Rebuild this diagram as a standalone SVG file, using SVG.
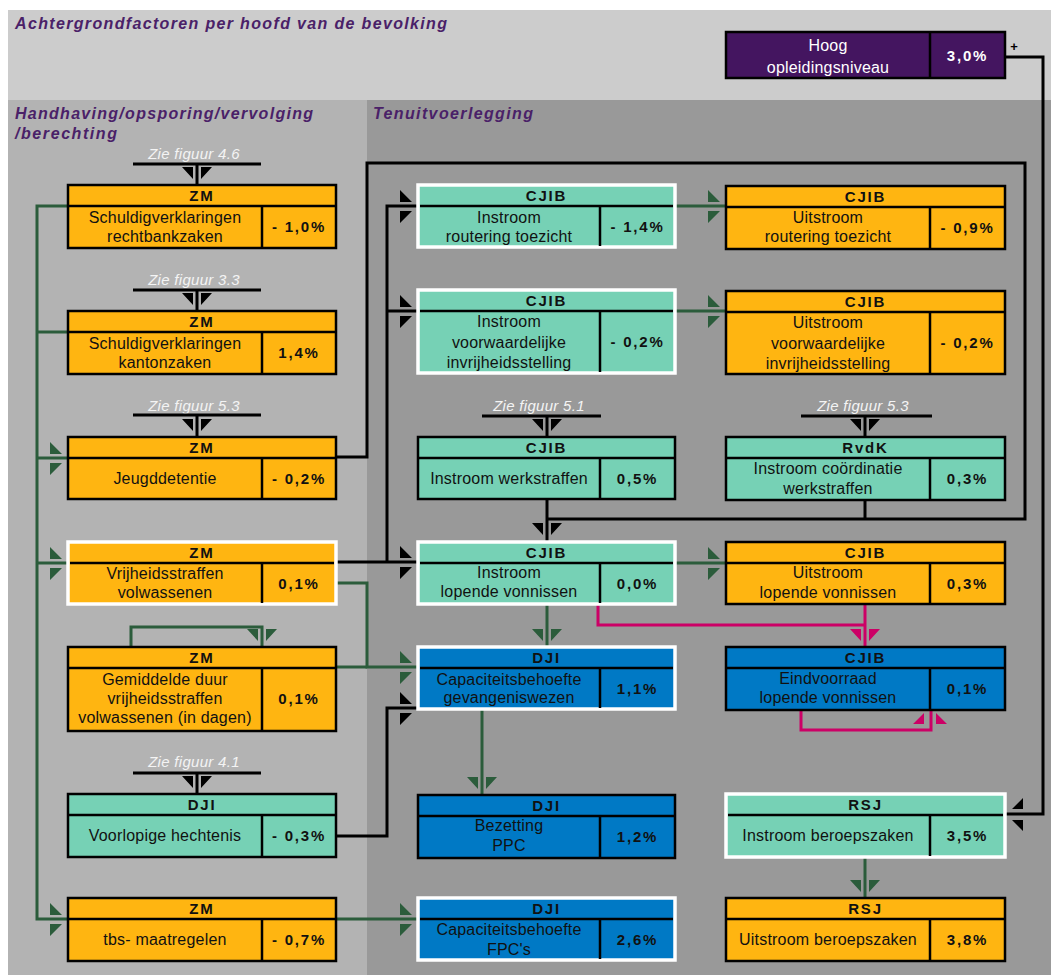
<svg xmlns="http://www.w3.org/2000/svg" width="1051" height="975" viewBox="0 0 1051 975">
<style>
.orange{fill:#ffb511}.teal{fill:#76d1b5}.blue{fill:#0079c5}.purple{fill:#441560}
.bk{stroke:#000;stroke-width:2.5}.wh{stroke:#fff;stroke-width:3.5}
.div{stroke:#000;stroke-width:2.5}
.hdr{font-family:"Liberation Sans",Arial,sans-serif;font-weight:bold;font-size:15px;letter-spacing:1.8px;text-anchor:middle;fill:#111}
.txt{font-family:"Liberation Sans",Arial,sans-serif;font-size:16px;letter-spacing:0.2px;text-anchor:middle;fill:#111}
.val{font-family:"Liberation Sans",Arial,sans-serif;font-weight:bold;font-size:15px;letter-spacing:1.8px;text-anchor:middle;fill:#111}
.wt{fill:#fff}
.zie{font-family:"Liberation Sans",Arial,sans-serif;font-style:italic;font-size:15px;letter-spacing:0.3px;text-anchor:middle;fill:#f4f4f4}
.ttl{font-family:"Liberation Sans",Arial,sans-serif;font-weight:bold;font-style:italic;font-size:16px;fill:#4a2168}
.cb{fill:none;stroke:#000;stroke-width:3}
.cg{fill:none;stroke:#2b5c3b;stroke-width:3}
.cm{fill:none;stroke:#cc0066;stroke-width:3}
.ab{fill:#000}.ag{fill:#2b5c3b}.am{fill:#cc0066}
</style>
<defs>
<path id="aR" d="M-18,-16V-4H-6Z M-18,5H-6L-18,17Z"/>
<path id="aD" d="M-15,-18H-4V-6Z M4,-18H15L4,-6Z"/>
<path id="aL" d="M6,-5H17V-16Z M6,6H17V17Z"/>
<path id="aU" d="M-18,14H-7V3Z M5,3V14H16Z"/>
</defs>
<rect x="0" y="0" width="1051" height="975" fill="#fff"/>
<rect x="8" y="10" width="1043" height="90" fill="#cccccc"/>
<rect x="8" y="100" width="359" height="875" fill="#b3b3b3"/>
<rect x="367" y="100" width="684" height="875" fill="#999999"/>
<g id="titles">
<text class="ttl" x="15" y="29" textLength="432" lengthAdjust="spacing">Achtergrondfactoren per hoofd van de bevolking</text>
<text class="ttl" x="15" y="119" textLength="298" lengthAdjust="spacing">Handhaving/opsporing/vervolging</text>
<text class="ttl" x="15" y="139" textLength="102" lengthAdjust="spacing">/berechting</text>
<text class="ttl" x="373" y="119" textLength="160" lengthAdjust="spacing">Tenuitvoerlegging</text>
<text x="1014" y="51" font-family="Liberation Sans, Arial, sans-serif" font-weight="bold" font-size="13" text-anchor="middle" fill="#000">+</text>
</g>
<g id="refs">
<text class="zie" x="194" y="159">Zie figuur 4.6</text>
<text class="zie" x="194" y="285">Zie figuur 3.3</text>
<text class="zie" x="194" y="411">Zie figuur 5.3</text>
<text class="zie" x="194" y="767">Zie figuur 4.1</text>
<text class="zie" x="539" y="411">Zie figuur 5.1</text>
<text class="zie" x="863" y="411">Zie figuur 5.3</text>
</g>
<g id="connectors">
<path class="cb" d="M133,164H261M197,164V185"/>
<path class="cb" d="M133,290H261M197,290V311"/>
<path class="cb" d="M133,415H261M197,415V437"/>
<path class="cb" d="M133,773H261M197,773V794"/>
<path class="cb" d="M482,416H601M547,416V437"/>
<path class="cb" d="M801,416H932M865,416V437"/>
<use href="#aD" class="ab" x="197" y="185"/>
<use href="#aD" class="ab" x="197" y="311"/>
<use href="#aD" class="ab" x="197" y="437"/>
<use href="#aD" class="ab" x="197" y="794"/>
<use href="#aD" class="ab" x="547" y="437"/>
<use href="#aD" class="ab" x="865" y="437"/>
<path class="cb" d="M1005,57H1043V814H1005"/>
<use href="#aL" class="ab" x="1006" y="814"/>
<path class="cb" d="M336,457H367V163H1025V519H547"/>
<path class="cb" d="M547,499V541"/>
<path class="cb" d="M865,500V519"/>
<use href="#aD" class="ab" x="547" y="541"/>
<path class="cb" d="M336,562H418"/>
<path class="cb" d="M418,206H387V562"/>
<path class="cb" d="M387,311H418"/>
<use href="#aR" class="ab" x="418" y="206"/>
<use href="#aR" class="ab" x="418" y="311"/>
<use href="#aR" class="ab" x="418" y="562"/>
<path class="cb" d="M336,836H387V708H418"/>
<use href="#aR" class="ab" x="418" y="708"/>
<path class="cg" d="M68,206H37V919H68"/>
<path class="cg" d="M68,332H37"/>
<path class="cg" d="M37,458H68"/>
<path class="cg" d="M37,563H68"/>
<use href="#aR" class="ag" x="68" y="458"/>
<use href="#aR" class="ag" x="68" y="563"/>
<use href="#aR" class="ag" x="68" y="919"/>
<path class="cg" d="M336,583H367V667H418"/>
<path class="cg" d="M336,667H367"/>
<use href="#aR" class="ag" x="418" y="667"/>
<path class="cg" d="M131,647V627H262V647"/>
<use href="#aD" class="ag" x="262" y="647"/>
<path class="cg" d="M336,919H418"/>
<use href="#aR" class="ag" x="418" y="919"/>
<path class="cg" d="M675,206H726"/>
<path class="cg" d="M675,311H726"/>
<path class="cg" d="M675,563H726"/>
<use href="#aR" class="ag" x="726" y="206"/>
<use href="#aR" class="ag" x="726" y="311"/>
<use href="#aR" class="ag" x="726" y="563"/>
<path class="cg" d="M547,604V647"/>
<use href="#aD" class="ag" x="547" y="647"/>
<path class="cg" d="M482,709V795"/>
<use href="#aD" class="ag" x="482" y="795"/>
<path class="cg" d="M865,857V898"/>
<use href="#aD" class="ag" x="865" y="898"/>
<path class="cm" d="M598,604V625H865"/>
<path class="cm" d="M865,604V647"/>
<use href="#aD" class="am" x="865" y="647"/>
<path class="cm" d="M801,710V730H931V710"/>
<use href="#aU" class="am" x="931" y="710"/>
</g>
<g id="n_hoog">
<rect x="726" y="32" width="279" height="46" class="purple bk"/>
<line x1="930" y1="32" x2="930" y2="78" class="div"/>
<text class="txt wt" x="828" y="51">Hoog</text>
<text class="txt wt" x="828" y="73">opleidingsniveau</text>
<text class="val wt" x="967.5" y="61">3,0%</text>
</g>
<g id="n_zm_rb">
<rect x="68" y="185" width="268" height="63" class="orange bk"/>
<line x1="68" y1="206" x2="336" y2="206" class="div"/><line x1="262" y1="206" x2="262" y2="248" class="div"/>
<text class="hdr" x="202" y="201">ZM</text>
<text class="txt" x="165" y="223">Schuldigverklaringen</text><text class="txt" x="165" y="242">rechtbankzaken</text>
<text class="val" x="299" y="232">- 1,0%</text>
</g>
<g id="n_zm_kz">
<rect x="68" y="311" width="268" height="63" class="orange bk"/>
<line x1="68" y1="332" x2="336" y2="332" class="div"/><line x1="262" y1="332" x2="262" y2="374" class="div"/>
<text class="hdr" x="202" y="327">ZM</text>
<text class="txt" x="165" y="349">Schuldigverklaringen</text><text class="txt" x="165" y="368">kantonzaken</text>
<text class="val" x="299" y="358">1,4%</text>
</g>
<g id="n_zm_jd">
<rect x="68" y="437" width="268" height="62" class="orange bk"/>
<line x1="68" y1="458" x2="336" y2="458" class="div"/><line x1="262" y1="458" x2="262" y2="499" class="div"/>
<text class="hdr" x="202" y="453">ZM</text>
<text class="txt" x="165" y="484">Jeugddetentie</text>
<text class="val" x="299" y="484">- 0,2%</text>
</g>
<g id="n_zm_vs">
<rect x="68" y="542" width="268" height="62" class="orange wh"/>
<line x1="70" y1="563" x2="334" y2="563" class="div"/><line x1="262" y1="563" x2="262" y2="603" class="div"/>
<text class="hdr" x="202" y="558">ZM</text>
<text class="txt" x="165" y="579">Vrijheidsstraffen</text><text class="txt" x="165" y="598">volwassenen</text>
<text class="val" x="299" y="589">0,1%</text>
</g>
<g id="n_zm_gd">
<rect x="68" y="647" width="268" height="84" class="orange bk"/>
<line x1="68" y1="668" x2="336" y2="668" class="div"/><line x1="262" y1="668" x2="262" y2="731" class="div"/>
<text class="hdr" x="202" y="663">ZM</text>
<text class="txt" x="165" y="685">Gemiddelde duur</text><text class="txt" x="165" y="704">vrijheidsstraffen</text><text class="txt" x="165" y="723">volwassenen (in dagen)</text>
<text class="val" x="299" y="704">0,1%</text>
</g>
<g id="n_dji_vh">
<rect x="68" y="794" width="268" height="63" class="teal bk"/>
<line x1="68" y1="815" x2="336" y2="815" class="div"/><line x1="262" y1="815" x2="262" y2="857" class="div"/>
<text class="hdr" x="202" y="810">DJI</text>
<text class="txt" x="165" y="841">Voorlopige hechtenis</text>
<text class="val" x="299" y="841">- 0,3%</text>
</g>
<g id="n_zm_tbs">
<rect x="68" y="898" width="268" height="63" class="orange bk"/>
<line x1="68" y1="919" x2="336" y2="919" class="div"/><line x1="262" y1="919" x2="262" y2="961" class="div"/>
<text class="hdr" x="202" y="914">ZM</text>
<text class="txt" x="165" y="945">tbs- maatregelen</text>
<text class="val" x="299" y="945">- 0,7%</text>
</g>
<g id="n_cjib_irt">
<rect x="418" y="185" width="257" height="62" class="teal wh"/>
<line x1="420" y1="206" x2="673" y2="206" class="div"/><line x1="600" y1="206" x2="600" y2="246" class="div"/>
<text class="hdr" x="546.5" y="201">CJIB</text>
<text class="txt" x="509" y="223">Instroom</text><text class="txt" x="509" y="242">routering toezicht</text>
<text class="val" x="637.5" y="232">- 1,4%</text>
</g>
<g id="n_cjib_ivi">
<rect x="418" y="290" width="257" height="83" class="teal wh"/>
<line x1="420" y1="311" x2="673" y2="311" class="div"/><line x1="600" y1="311" x2="600" y2="372" class="div"/>
<text class="hdr" x="546.5" y="306">CJIB</text>
<text class="txt" x="509" y="327">Instroom</text><text class="txt" x="509" y="348">voorwaardelijke</text><text class="txt" x="509" y="368">invrijheidsstelling</text>
<text class="val" x="637.5" y="347">- 0,2%</text>
</g>
<g id="n_cjib_iw">
<rect x="418" y="437" width="257" height="62" class="teal bk"/>
<line x1="418" y1="458" x2="675" y2="458" class="div"/><line x1="600" y1="458" x2="600" y2="499" class="div"/>
<text class="hdr" x="546.5" y="453">CJIB</text>
<text class="txt" x="509" y="484">Instroom werkstraffen</text>
<text class="val" x="637.5" y="484">0,5%</text>
</g>
<g id="n_cjib_ilv">
<rect x="418" y="542" width="257" height="62" class="teal wh"/>
<line x1="420" y1="563" x2="673" y2="563" class="div"/><line x1="600" y1="563" x2="600" y2="603" class="div"/>
<text class="hdr" x="546.5" y="558">CJIB</text>
<text class="txt" x="509" y="578">Instroom</text><text class="txt" x="509" y="597">lopende vonnissen</text>
<text class="val" x="637.5" y="589">0,0%</text>
</g>
<g id="n_dji_cg">
<rect x="418" y="647" width="257" height="62" class="blue wh"/>
<line x1="420" y1="668" x2="673" y2="668" class="div"/><line x1="600" y1="668" x2="600" y2="708" class="div"/>
<text class="hdr" x="546.5" y="663">DJI</text>
<text class="txt" x="509" y="685">Capaciteitsbehoefte</text><text class="txt" x="509" y="703">gevangeniswezen</text>
<text class="val" x="637.5" y="694">1,1%</text>
</g>
<g id="n_dji_pp">
<rect x="418" y="795" width="257" height="63" class="blue bk"/>
<line x1="418" y1="816" x2="675" y2="816" class="div"/><line x1="600" y1="816" x2="600" y2="858" class="div"/>
<text class="hdr" x="546.5" y="811">DJI</text>
<text class="txt" x="509" y="831">Bezetting</text><text class="txt" x="509" y="851">PPC</text>
<text class="val" x="637.5" y="842">1,2%</text>
</g>
<g id="n_dji_fpc">
<rect x="418" y="898" width="257" height="62" class="blue wh"/>
<line x1="420" y1="919" x2="673" y2="919" class="div"/><line x1="600" y1="919" x2="600" y2="959" class="div"/>
<text class="hdr" x="546.5" y="914">DJI</text>
<text class="txt" x="509" y="935">Capaciteitsbehoefte</text><text class="txt" x="509" y="955">FPC's</text>
<text class="val" x="637.5" y="945">2,6%</text>
</g>
<g id="n_cjib_urt">
<rect x="726" y="186" width="279" height="63" class="orange bk"/>
<line x1="726" y1="207" x2="1005" y2="207" class="div"/><line x1="930" y1="207" x2="930" y2="249" class="div"/>
<text class="hdr" x="865.5" y="202">CJIB</text>
<text class="txt" x="828" y="223">Uitstroom</text><text class="txt" x="828" y="242">routering toezicht</text>
<text class="val" x="967.5" y="233">- 0,9%</text>
</g>
<g id="n_cjib_uvi">
<rect x="726" y="291" width="279" height="83" class="orange bk"/>
<line x1="726" y1="312" x2="1005" y2="312" class="div"/><line x1="930" y1="312" x2="930" y2="374" class="div"/>
<text class="hdr" x="865.5" y="307">CJIB</text>
<text class="txt" x="828" y="328">Uitstroom</text><text class="txt" x="828" y="349">voorwaardelijke</text><text class="txt" x="828" y="369">invrijheidsstelling</text>
<text class="val" x="967.5" y="348">- 0,2%</text>
</g>
<g id="n_rvdk">
<rect x="726" y="437" width="279" height="63" class="teal bk"/>
<line x1="726" y1="458" x2="1005" y2="458" class="div"/><line x1="930" y1="458" x2="930" y2="500" class="div"/>
<text class="hdr" x="865.5" y="453">RvdK</text>
<text class="txt" x="828" y="474">Instroom coördinatie</text><text class="txt" x="828" y="494">werkstraffen</text>
<text class="val" x="967.5" y="484">0,3%</text>
</g>
<g id="n_cjib_ulv">
<rect x="726" y="542" width="279" height="62" class="orange bk"/>
<line x1="726" y1="563" x2="1005" y2="563" class="div"/><line x1="930" y1="563" x2="930" y2="604" class="div"/>
<text class="hdr" x="865.5" y="558">CJIB</text>
<text class="txt" x="828" y="578">Uitstroom</text><text class="txt" x="828" y="598">lopende vonnissen</text>
<text class="val" x="967.5" y="589">0,3%</text>
</g>
<g id="n_cjib_elv">
<rect x="726" y="647" width="279" height="63" class="blue bk"/>
<line x1="726" y1="668" x2="1005" y2="668" class="div"/><line x1="930" y1="668" x2="930" y2="710" class="div"/>
<text class="hdr" x="865.5" y="663">CJIB</text>
<text class="txt" x="828" y="684">Eindvoorraad</text><text class="txt" x="828" y="703">lopende vonnissen</text>
<text class="val" x="967.5" y="694">0,1%</text>
</g>
<g id="n_rsj_i">
<rect x="726" y="794" width="279" height="63" class="teal wh"/>
<line x1="728" y1="815" x2="1003" y2="815" class="div"/><line x1="930" y1="815" x2="930" y2="856" class="div"/>
<text class="hdr" x="865.5" y="810">RSJ</text>
<text class="txt" x="828" y="841">Instroom beroepszaken</text>
<text class="val" x="967.5" y="841">3,5%</text>
</g>
<g id="n_rsj_u">
<rect x="726" y="898" width="279" height="63" class="orange bk"/>
<line x1="726" y1="919" x2="1005" y2="919" class="div"/><line x1="930" y1="919" x2="930" y2="961" class="div"/>
<text class="hdr" x="865.5" y="914">RSJ</text>
<text class="txt" x="828" y="945">Uitstroom beroepszaken</text>
<text class="val" x="967.5" y="945">3,8%</text>
</g>
</svg>
